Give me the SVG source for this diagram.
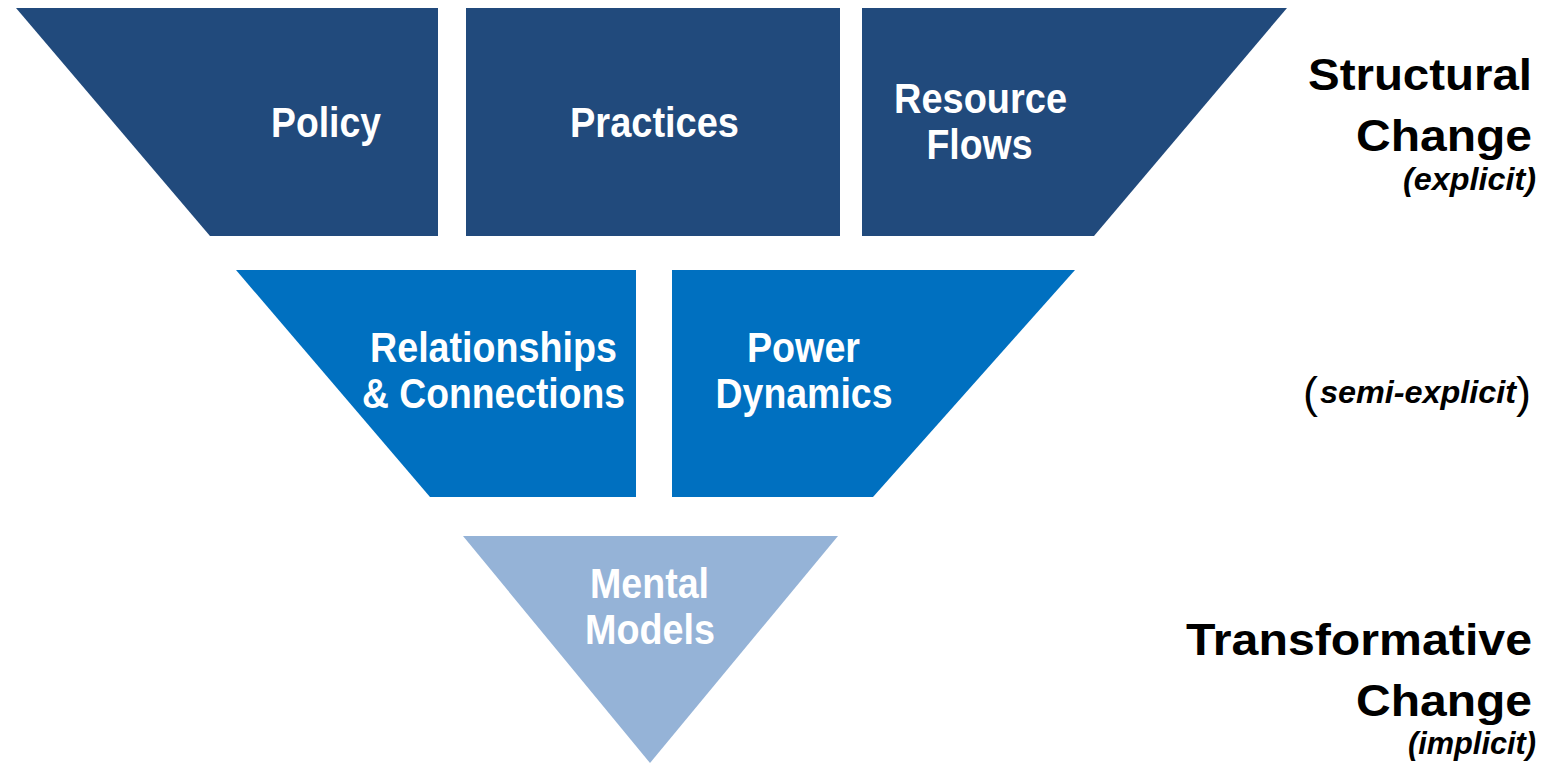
<svg xmlns="http://www.w3.org/2000/svg" width="1541" height="764" viewBox="0 0 1541 764">
<style>
.dark{fill:#214A7C}
.mid{fill:#0070C0}
.light{fill:#95B3D7}
.lbl{font-family:"Liberation Sans",Arial,sans-serif;font-weight:bold;font-size:42px;fill:#FFFFFF;text-anchor:middle}
.side{font-family:"Liberation Sans",Arial,sans-serif;font-weight:bold;font-size:44px;fill:#000000;text-anchor:end}
.sub{font-family:"Liberation Sans",Arial,sans-serif;font-weight:bold;font-style:italic;font-size:31px;fill:#000000;text-anchor:end}
</style>
<rect width="1541" height="764" fill="#FFFFFF"/>
<g id="connectors"></g>
<g id="policy">
<polygon class="dark" points="16,8 438,8 438,236 210,236"/>
<text class="lbl" x="326" y="137" textLength="110" lengthAdjust="spacingAndGlyphs">Policy</text>
</g>
<g id="practices">
<rect class="dark" x="466" y="8" width="374" height="228"/>
<text class="lbl" x="654.5" y="137" textLength="169" lengthAdjust="spacingAndGlyphs">Practices</text>
</g>
<g id="resource-flows">
<polygon class="dark" points="862,8 1287,8 1094,236 862,236"/>
<text class="lbl" x="980.5" y="113" textLength="173" lengthAdjust="spacingAndGlyphs">Resource</text>
<text class="lbl" x="979.5" y="159" textLength="106" lengthAdjust="spacingAndGlyphs">Flows</text>
</g>
<g id="relationships">
<polygon class="mid" points="236,270 636,270 636,497 430,497"/>
<text class="lbl" x="493.5" y="362" textLength="247" lengthAdjust="spacingAndGlyphs">Relationships</text>
<text class="lbl" x="493.5" y="408" textLength="263" lengthAdjust="spacingAndGlyphs">&amp; Connections</text>
</g>
<g id="power-dynamics">
<polygon class="mid" points="672,270 1075,270 873,497 672,497"/>
<text class="lbl" x="803.5" y="362" textLength="113" lengthAdjust="spacingAndGlyphs">Power</text>
<text class="lbl" x="804" y="408" textLength="177" lengthAdjust="spacingAndGlyphs">Dynamics</text>
</g>
<g id="mental-models">
<polygon class="light" points="463,536 838,536 650,763"/>
<text class="lbl" x="649.5" y="598" textLength="119" lengthAdjust="spacingAndGlyphs">Mental</text>
<text class="lbl" x="650" y="644" textLength="130" lengthAdjust="spacingAndGlyphs">Models</text>
</g>
<g id="structural-label">
<text class="side" x="1532" y="90" textLength="224" lengthAdjust="spacingAndGlyphs">Structural</text>
<text class="side" x="1532" y="151" textLength="176" lengthAdjust="spacingAndGlyphs">Change</text>
<text class="sub" x="1536" y="190" textLength="133" lengthAdjust="spacingAndGlyphs">(explicit)</text>
</g>
<g id="semi-label">
<text font-family="Liberation Sans, Arial, sans-serif" fill="#000000"><tspan x="1303" y="408" font-size="45">(</tspan><tspan x="1320" y="403" font-size="31" font-weight="bold" font-style="italic" textLength="196" lengthAdjust="spacingAndGlyphs">semi-explicit</tspan><tspan x="1516" y="408" font-size="45">)</tspan></text>
</g>
<g id="transformative-label">
<text class="side" x="1532" y="655" textLength="346" lengthAdjust="spacingAndGlyphs">Transformative</text>
<text class="side" x="1532" y="716" textLength="176" lengthAdjust="spacingAndGlyphs">Change</text>
<text class="sub" x="1536" y="754" textLength="128" lengthAdjust="spacingAndGlyphs">(implicit)</text>
</g>
</svg>
